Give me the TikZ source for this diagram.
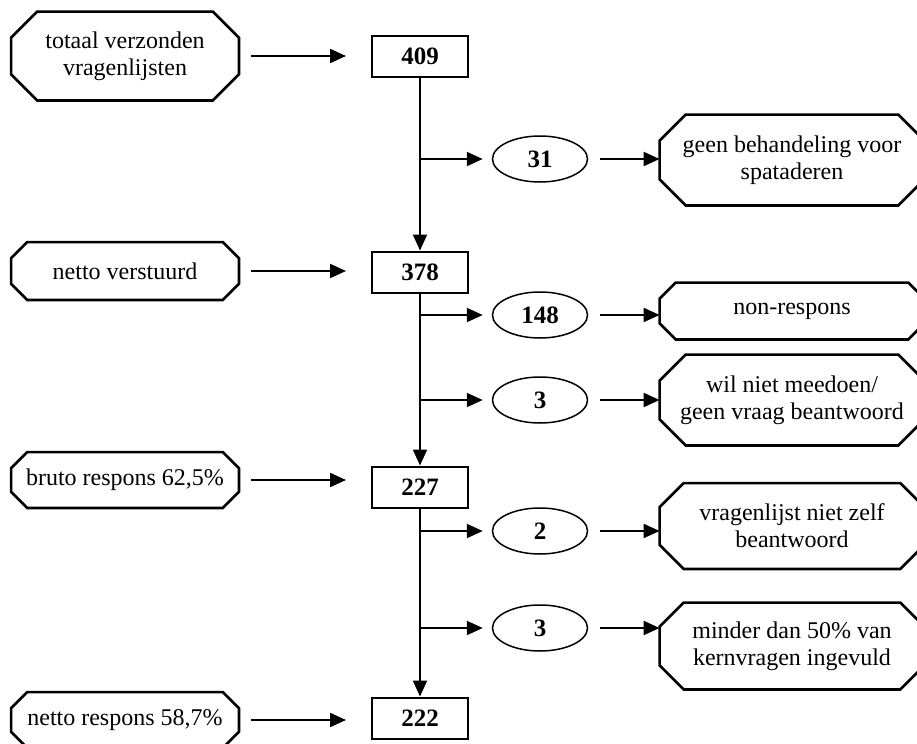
\documentclass[tikz,border=0pt]{standalone}
\usepackage{fontspec}
\setmainfont{Liberation Serif}
\usetikzlibrary{arrows.meta,positioning,shapes.geometric}

\tikzset{
  every picture/.style={x=0.5pt,y=-0.5pt},
  oct/.style={minimum width=113.5pt, inner sep=0pt, align=center,
    font=\fontsize{12}{13.5}\selectfont},
  octr/.style={oct, minimum width=132pt},
  octline/.style={line width=1.35pt, line join=miter},
  numbox/.style={draw, line width=1pt, minimum width=48pt, minimum height=20.5pt,
    inner sep=0pt, font=\fontsize{12.5}{13.5}\selectfont\bfseries},
  numoval/.style={draw, ellipse, line width=0.75pt, minimum width=47.5pt,
    minimum height=23pt, inner sep=0pt, font=\fontsize{12.5}{13.5}\selectfont\bfseries},
  arr/.style={line width=1.05pt, -{Triangle[length=8pt,width=7pt]}}
}

\begin{document}
\begin{tikzpicture}
  \useasboundingbox (0,0) rectangle (917,744);

  % left column
  \node[oct, minimum height=44pt]   (lt) at (125,56)  {totaal verzonden\\vragenlijsten};
  \node[oct, minimum height=28.5pt] (ln) at (125,271) {netto verstuurd};
  \node[oct, minimum height=27.5pt] (lb) at (125,480) {bruto respons 62,5\%};
  \node[oct, minimum height=27.5pt] (lr) at (125,720) {netto respons 58,7\%};

  % numbers
  \node[numbox] (b1) at (420,56)  {409};
  \node[numbox] (b2) at (420,272) {378};
  \node[numbox] (b3) at (420,487) {227};
  \node[numbox] (b4) at (420,718) {222};

  % drop-outs
  \node[numoval] (e1) at (540,159) {31};
  \node[numoval] (e2) at (540,315) {148};
  \node[numoval] (e3) at (540,400) {3};
  \node[numoval] (e4) at (540,531) {2};
  \node[numoval] (e5) at (540,628) {3};

  % reasons
  \node[octr, minimum height=45pt]   (o1) at (792,160) {geen behandeling voor\\spataderen};
  \node[octr, minimum height=28pt]   (o2) at (792,311) {non-respons};
  \node[octr, minimum height=45pt]   (o3) at (792,400) {wil niet meedoen/\\geen vraag beantwoord};
  \node[octr, minimum height=42.5pt] (o4) at (792,526) {vragenlijst niet zelf\\beantwoord};
  \node[octr, minimum height=43pt]   (o5) at (792,646) {minder dan 50\% van\\kernvragen ingevuld};

  % octagon outlines
  \foreach \n/\c in {lt/13, ln/8, lb/8, lr/8, o1/13, o2/8, o3/13, o4/12, o5/12}
    \draw[octline] ([xshift=\c pt]\n.north west) -- ([xshift=-\c pt]\n.north east)
      -- ([yshift=-\c pt]\n.north east) -- ([yshift=\c pt]\n.south east)
      -- ([xshift=-\c pt]\n.south east) -- ([xshift=\c pt]\n.south west)
      -- ([yshift=\c pt]\n.south west) -- ([yshift=-\c pt]\n.north west) -- cycle;

  % left to numbers
  \foreach \l/\b in {lt/b1, ln/b2, lb/b3, lr/b4}
    \draw[arr, shorten <=6pt, shorten >=12.5pt] (\l) -- (\l -| \b.west);

  % main flow
  \draw[arr] (b1) -- (b2);
  \draw[arr] (b2) -- (b3);
  \draw[arr] (b3) -- (b4);

  % branches
  \foreach \b/\e/\o in {b1/e1/o1, b2/e2/o2, b2/e3/o3, b3/e4/o4, b3/e5/o5} {
    \draw[arr, shorten >=4.5pt] (\b.south |- \e.west) -- (\e.west);
    \draw[arr, shorten <=6pt] (\e) -- (\e -| \o.west);
  }
\end{tikzpicture}
\end{document}
